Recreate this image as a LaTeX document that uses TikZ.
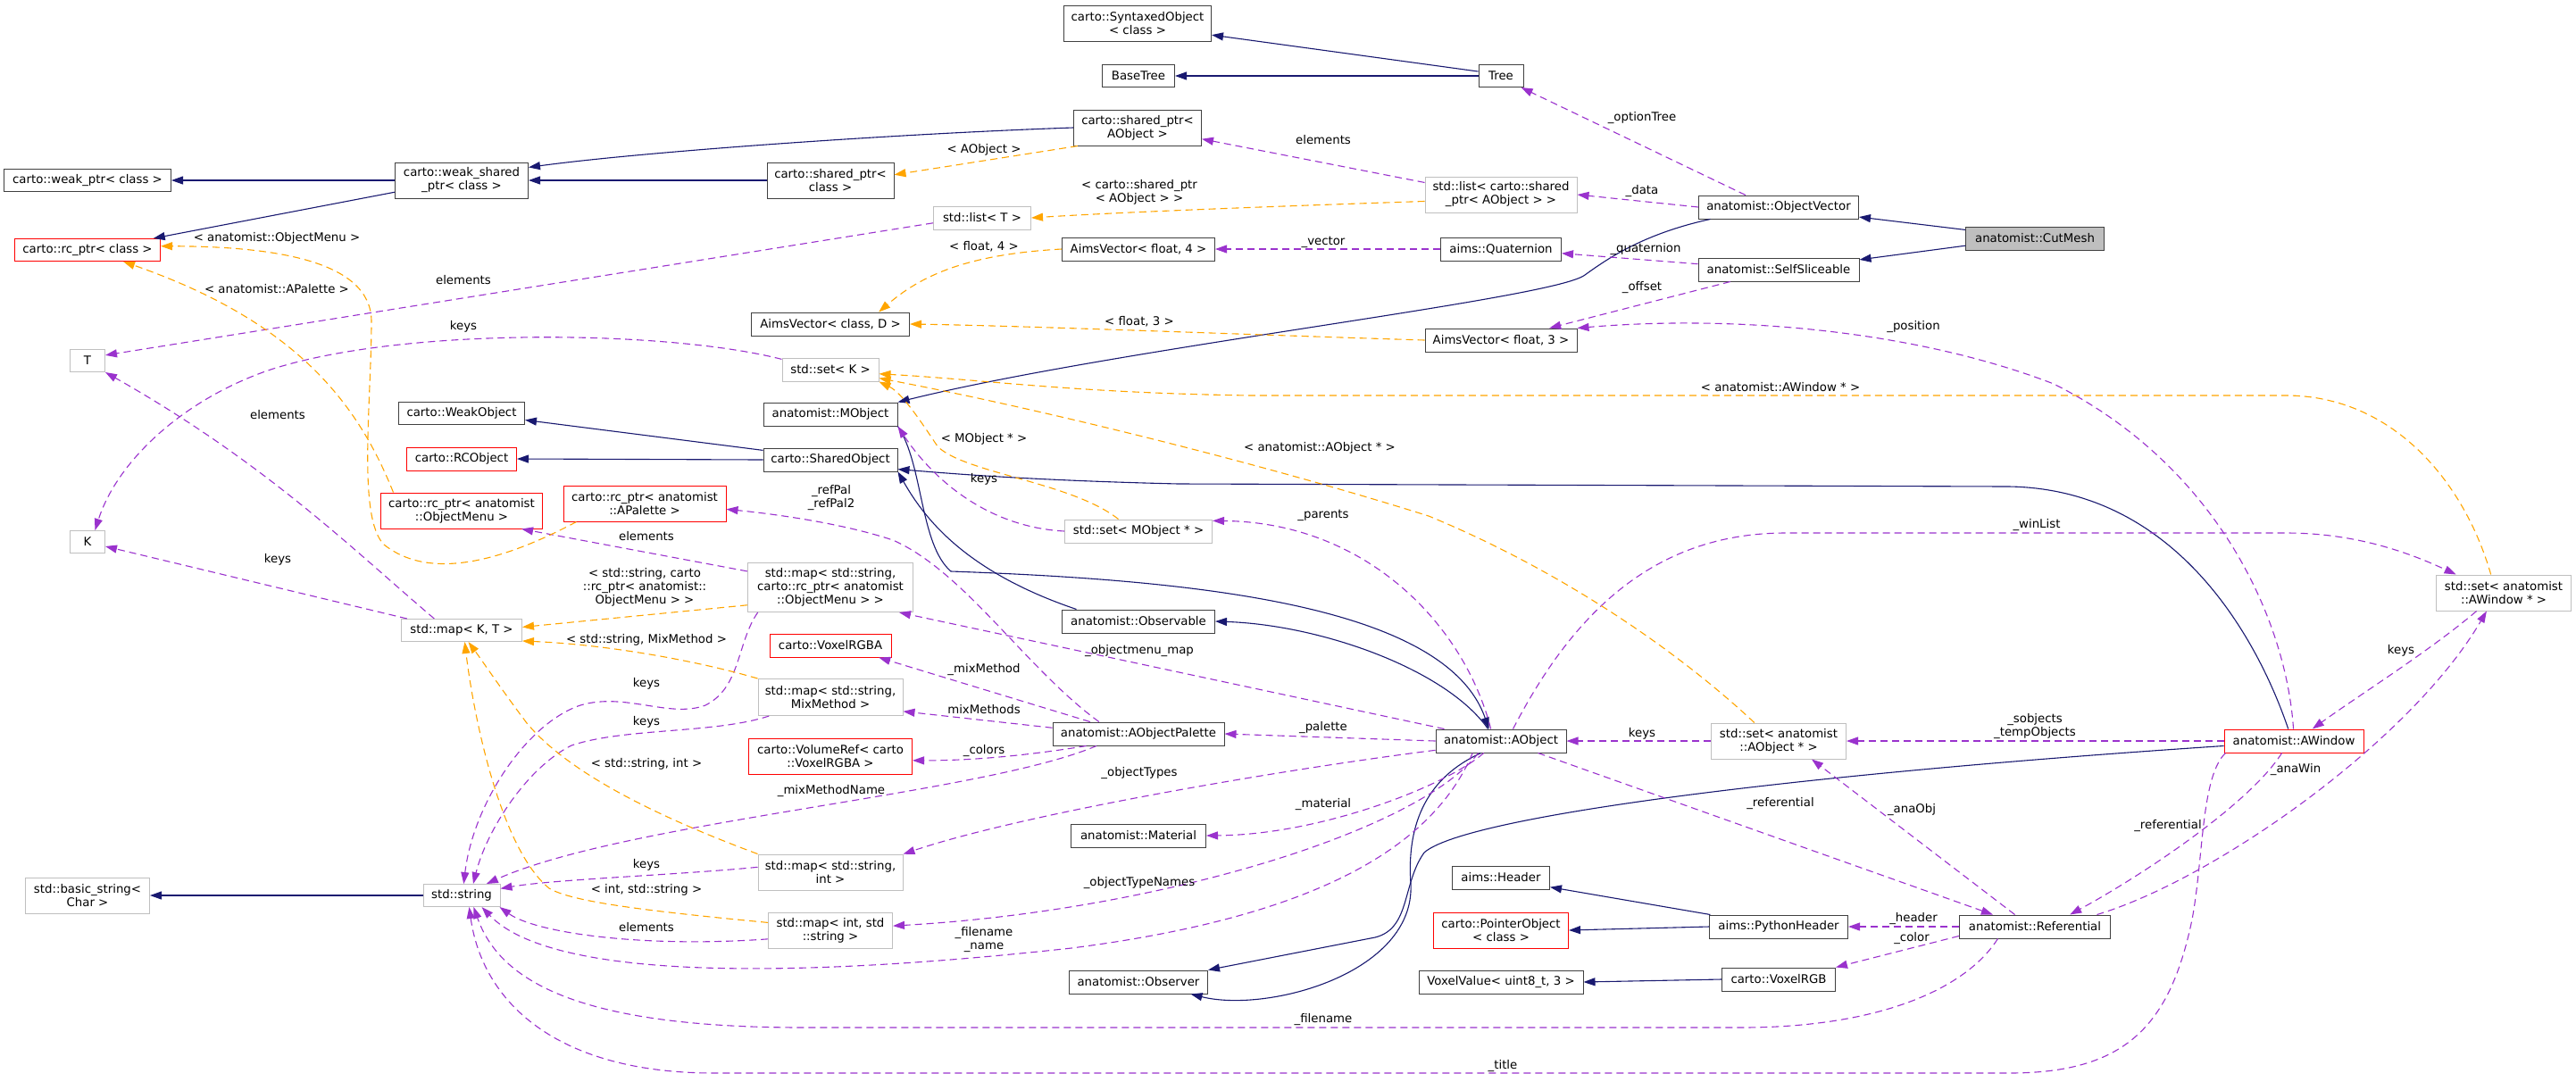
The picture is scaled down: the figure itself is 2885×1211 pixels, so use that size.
\documentclass[tikz,border=0pt]{standalone}
\usepackage{fontspec}
\setmainfont{DejaVu Sans}
\usetikzlibrary{arrows.meta}
\definecolor{inhcol}{HTML}{191970}
\definecolor{memcol}{HTML}{9A32CD}
\definecolor{tplcol}{HTML}{FFA500}
\definecolor{docbd}{HTML}{404040}
\definecolor{extbd}{HTML}{BFBFBF}
\definecolor{focfill}{HTML}{BFBFBF}
\newcommand{\lbl}{\fontsize{13.3}{15}\selectfont}

\begin{document}
\begin{tikzpicture}[x=1pt,y=-1pt,
  cls/.style={draw=docbd, line width=1pt, inner sep=0pt, align=center, font=\lbl},
  ext/.style={cls, draw=extbd},
  undoc/.style={cls, draw=red},
  focus/.style={cls, fill=focfill},
  sz/.style 2 args={minimum width=#1, minimum height=#2},
  lab/.style={inner sep=0pt, align=center, font=\lbl},
  inh/.style={draw=inhcol, line width=1.1pt, -{Triangle[length=13pt,width=9pt]}},
  mem/.style={draw=memcol, line width=1.1pt, dash pattern=on 8pt off 5pt, -{Triangle[length=13pt,width=9pt]}},
  tpl/.style={draw=tplcol, line width=1.1pt, dash pattern=on 8pt off 5pt, -{Triangle[length=13pt,width=9pt]}}]
  \useasboundingbox (0,0) rectangle (2885,1211);

  \node[cls,sz={165}{40}] (syntaxed) at (1274,26) {carto::SyntaxedObject\\< class >};
  \node[cls,sz={81}{25}] (baseTree) at (1275,85) {BaseTree};
  \node[cls,sz={50}{25}] (tree) at (1681,85) {Tree};
  \node[cls,sz={143}{40}] (sharedAObj) at (1274,143) {carto::shared\_ptr<\\AObject >};
  \node[cls,sz={142}{40}] (sharedCls) at (930,202) {carto::shared\_ptr<\\class >};
  \node[cls,sz={149}{40}] (weakShared) at (517,202) {carto::weak\_shared\\\_ptr< class >};
  \node[cls,sz={187}{25}] (weakPtr) at (98,202) {carto::weak\_ptr< class >};
  \node[undoc,sz={163}{25}] (rcPtr) at (98,280) {carto::rc\_ptr< class >};
  \node[ext,sz={39}{25}] (tpT) at (98,404) {T};
  \node[ext,sz={39}{25}] (tpK) at (98,607) {K};
  \node[ext,sz={109}{26}] (listT) at (1100,244) {std::list< T >};
  \node[cls,sz={171}{26}] (vec4) at (1275,279) {AimsVector< float, 4 >};
  \node[cls,sz={177}{26}] (vecCD) at (930,363) {AimsVector< class, D >};
  \node[ext,sz={108}{26}] (setK) at (930,414) {std::set< K >};
  \node[cls,sz={150}{26}] (mobj) at (930,464) {anatomist::MObject};
  \node[cls,sz={150}{26}] (sharedObj) at (930,515) {carto::SharedObject};
  \node[cls,sz={141}{25}] (weakObj) at (517,463) {carto::WeakObject};
  \node[undoc,sz={123}{26}] (rcObj) at (517,514) {carto::RCObject};
  \node[undoc,sz={181}{40}] (rcMenu) at (517,572) {carto::rc\_ptr< anatomist\\::ObjectMenu >};
  \node[undoc,sz={182}{40}] (rcPal) at (722,564) {carto::rc\_ptr< anatomist\\::APalette >};
  \node[ext,sz={165}{26}] (setMObj) at (1275,595) {std::set< MObject * >};
  \node[ext,sz={135}{25}] (mapKT) at (517,706) {std::map< K, T >};
  \node[ext,sz={139}{40}] (basicStr) at (98,1003) {std::basic\_string<\\Char >};
  \node[ext,sz={86}{25}] (stdStr) at (517,1003) {std::string};
  \node[ext,sz={185}{55}] (mapMenu) at (930,658) {std::map< std::string,\\carto::rc\_ptr< anatomist\\::ObjectMenu > >};
  \node[undoc,sz={136}{26}] (voxRGBA) at (930,723) {carto::VoxelRGBA};
  \node[ext,sz={162}{41}] (mapMix) at (930,781) {std::map< std::string,\\MixMethod >};
  \node[undoc,sz={183}{40}] (volRef) at (930,847) {carto::VolumeRef< carto\\::VoxelRGBA >};
  \node[ext,sz={162}{40}] (mapStrInt) at (930,977) {std::map< std::string,\\int >};
  \node[ext,sz={139}{40}] (mapIntStr) at (930,1042) {std::map< int, std\\::string >};
  \node[cls,sz={171}{26}] (observable) at (1275,696) {anatomist::Observable};
  \node[cls,sz={192}{26}] (aopal) at (1275,822) {anatomist::AObjectPalette};
  \node[cls,sz={151}{26}] (material) at (1275,936) {anatomist::Material};
  \node[cls,sz={155}{26}] (observer) at (1275,1100) {anatomist::Observer};
  \node[ext,sz={170}{40}] (listSP) at (1681,218) {std::list< carto::shared\\\_ptr< AObject > >};
  \node[cls,sz={135}{26}] (quat) at (1681,279) {aims::Quaternion};
  \node[cls,sz={170}{26}] (vec3) at (1681,381) {AimsVector< float, 3 >};
  \node[cls,sz={179}{26}] (objVec) at (1992,232) {anatomist::ObjectVector};
  \node[cls,sz={180}{26}] (selfSl) at (1992,302) {anatomist::SelfSliceable};
  \node[focus,sz={155}{26}] (cutMesh) at (2279,267) {anatomist::CutMesh};
  \node[cls,sz={146}{26}] (aobj) at (1681,830) {anatomist::AObject};
  \node[ext,sz={151}{40}] (setAObj) at (1992,830) {std::set< anatomist\\::AObject * >};
  \node[cls,sz={109}{26}] (aimsHdr) at (1681,983) {aims::Header};
  \node[undoc,sz={151}{40}] (ptrObj) at (1681,1042) {carto::PointerObject\\< class >};
  \node[cls,sz={184}{26}] (voxVal) at (1681,1100) {VoxelValue< uint8\_t, 3 >};
  \node[cls,sz={155}{26}] (pyHdr) at (1992,1038) {aims::PythonHeader};
  \node[cls,sz={127}{26}] (voxRGB) at (1992,1097) {carto::VoxelRGB};
  \node[cls,sz={169}{26}] (refl) at (2279,1038) {anatomist::Referential};
  \node[undoc,sz={156}{26}] (awin) at (2569,830) {anatomist::AWindow};
  \node[ext,sz={151}{40}] (setAWin) at (2804,664) {std::set< anatomist\\::AWindow * >};

  \draw[inh] (tree.169) -- (syntaxed.-9);
  \draw[inh] (tree.west) -- (baseTree.east);
  \draw[inh] (sharedAObj.west) .. controls (1000,150) and (720,170) .. (weakShared.11);
  \draw[inh] (sharedCls.west) -- (weakShared.east);
  \draw[inh] (weakShared.west) -- (weakPtr.east);
  \draw[inh] (weakShared.190) -- (rcPtr.10);
  \draw[inh] (objVec.190) .. controls (1840,262) and (1800,290) .. (1775,308) .. controls (1740,335) and (1250,390) .. (mobj.north east);
  \draw[inh] (cutMesh.173) -- (objVec.-7);
  \draw[inh] (cutMesh.186) -- (selfSl.7);
  \draw[inh] (sharedObj.172) -- (weakObj.-6);
  \draw[inh] (sharedObj.west) -- (rcObj.east);
  \draw[inh] (observable.169) .. controls (1080,640) and (1035,580) .. (sharedObj.-10);
  \draw[inh] (mobj.south east) .. controls (1034,520) and (1030,610) .. (1065,640) .. controls (1350,650) and (1620,680) .. (aobj.135);
  \draw[inh] (aobj.137) .. controls (1620,750) and (1480,700) .. (observable.east);
  \draw[inh] (aobj.211) .. controls (1600,870) and (1575,920) .. (1580,990) .. controls (1585,1090) and (1420,1135) .. (observer.-13);
  \draw[inh] (awin.184) .. controls (2000,868) and (1640,915) .. (1595,955) .. controls (1570,990) and (1580,1040) .. (1540,1050) -- (observer.north east);
  \draw[inh] (awin.115) .. controls (2530,720) and (2440,548) .. (2250,545) -- (1320,542) .. controls (1150,538) and (1060,530) .. (sharedObj.-8);
  \draw[inh] (pyHdr.170) -- (aimsHdr.-11);
  \draw[inh] (pyHdr.west) -- (ptrObj.east);
  \draw[inh] (voxRGB.west) -- (voxVal.east);
  \draw[inh] (stdStr.west) -- (basicStr.east);

  \draw[mem] (objVec.160) -- (tree.-30);
  \draw[mem] (objVec.west) -- (listSP.east);
  \draw[mem] (listSP.171) -- (sharedAObj.-10);
  \draw[mem] (selfSl.176) -- (quat.-4);
  \draw[mem] (selfSl.194) -- (vec3.14);
  \draw[mem] (quat.west) -- (vec4.east);
  \draw[mem] (awin.92) .. controls (2560,690) and (2480,520) .. (2300,430) .. controls (2150,372) and (1950,352) .. (vec3.north east);
  \draw[mem] (awin.west) -- (setAObj.east);
  \draw[mem] (setAObj.west) -- (aobj.east);
  \draw[mem] (setAWin.214) .. controls (2720,730) and (2640,780) .. (awin.33);
  \draw[mem] (aobj.45) .. controls (1760,690) and (1850,597) .. (2000,597) -- (2560,597) .. controls (2640,597) and (2700,620) .. (setAWin.159);
  \draw[mem] (refl.11) .. controls (2480,985) and (2700,830) .. (setAWin.-133);
  \draw[mem] (awin.-135) .. controls (2520,900) and (2400,980) .. (refl.19);
  \draw[mem] (refl.149) -- (setAObj.-29);
  \draw[mem] (aobj.-18) -- (refl.164);
  \draw[mem] (refl.west) -- (pyHdr.east);
  \draw[mem] (refl.187) -- (voxRGB.north east);
  \draw[mem] (refl.198) .. controls (2200,1110) and (2100,1151) .. (1950,1151) -- (900,1151) .. controls (650,1151) and (560,1100) .. (stdStr.-44);
  \draw[mem] (awin.190) .. controls (2465,870) and (2468,960) .. (2455,1030) .. controls (2430,1150) and (2380,1202) .. (2250,1202) -- (800,1202) .. controls (620,1202) and (540,1120) .. (stdStr.-57);
  \draw[mem] (aobj.203) .. controls (1600,960) and (1450,1030) .. (1200,1062) .. controls (900,1095) and (620,1100) .. (stdStr.-30);
  \draw[mem] (aobj.208) .. controls (1590,930) and (1300,1020) .. (mapIntStr.4);
  \draw[mem] (aobj.215) .. controls (1620,880) and (1480,935) .. (material.east);
  \draw[mem] (aobj.188) .. controls (1450,860) and (1150,910) .. (mapStrInt.14);
  \draw[mem] (aobj.west) -- (aopal.east);
  \draw[mem] (aobj.168) -- (mapMenu.-20);
  \draw[mem] (setMObj.west) .. controls (1100,590) and (1040,530) .. (mobj.south east);
  \draw[mem] (aobj.130) .. controls (1640,700) and (1530,585) .. (setMObj.8);
  \draw[mem] (aopal.166) -- (voxRGBA.-14);
  \draw[mem] (aopal.176) -- (mapMix.-11);
  \draw[mem] (aopal.193) .. controls (1140,848) and (1080,852) .. (volRef.-3);
  \draw[mem] (aopal.196) .. controls (1100,890) and (700,920) .. (stdStr.25);
  \draw[mem] (aopal.163) .. controls (1150,750) and (1080,640) .. (1000,605) .. controls (940,585) and (860,575) .. (rcPal.-4);
  \draw[mem] (mapMenu.169) -- (rcMenu.-17);
  \draw[mem] (mapMenu.199) .. controls (825,720) and (830,770) .. (790,790) .. controls (750,805) and (700,775) .. (650,790) .. controls (590,810) and (530,900) .. (stdStr.80);
  \draw[mem] (mapMix.197) .. controls (800,822) and (700,815) .. (640,835) .. controls (590,860) and (545,930) .. (stdStr.45);
  \draw[mem] (mapStrInt.176) .. controls (760,980) and (620,985) .. (stdStr.10);
  \draw[mem] (mapIntStr.188) .. controls (720,1062) and (600,1045) .. (stdStr.-17);
  \draw[mem] (listT.186) -- (tpT.17);
  \draw[mem] (setK.168) .. controls (750,370) and (450,365) .. (300,415) .. controls (200,450) and (130,520) .. (tpK.57);
  \draw[mem] (mapKT.157) .. controls (400,620) and (300,520) .. (tpT.south east);
  \draw[mem] (mapKT.168) -- (tpK.-14);

  \draw[tpl] (sharedAObj.197) -- (sharedCls.5);
  \draw[tpl] (listSP.185) .. controls (1400,232) and (1250,238) .. (listT.east);
  \draw[tpl] (vec4.west) .. controls (1080,285) and (1030,310) .. (vecCD.14);
  \draw[tpl] (vec3.west) .. controls (1400,375) and (1150,365) .. (vecCD.east);
  \draw[tpl] (setMObj.149) .. controls (1200,540) and (1080,530) .. (1050,500) .. controls (1030,470) and (1010,440) .. (setK.south east);
  \draw[tpl] (setAObj.143) .. controls (1880,730) and (1750,640) .. (1600,578) .. controls (1400,515) and (1150,455) .. (setK.-10);
  \draw[tpl] (setAWin.125) .. controls (2760,540) and (2680,443) .. (2560,443) -- (1400,443) .. controls (1200,440) and (1100,425) .. (setK.-5);
  \draw[tpl] (mapMenu.192) -- (mapKT.3);
  \draw[tpl] (mapMix.north west) .. controls (780,740) and (680,722) .. (mapKT.-10);
  \draw[tpl] (mapStrInt.north west) .. controls (750,920) and (640,870) .. (590,810) .. controls (560,770) and (540,740) .. (mapKT.-60);
  \draw[tpl] (mapIntStr.173) .. controls (720,1020) and (640,1010) .. (615,995) .. controls (560,950) and (530,800) .. (mapKT.-75);
  \draw[tpl] (rcMenu.165) .. controls (400,450) and (330,360) .. (rcPtr.-18);
  \draw[tpl] (rcPal.195) .. controls (560,630) and (480,650) .. (430,610) .. controls (400,580) and (416,450) .. (416,360) .. controls (416,290) and (300,276) .. (rcPtr.3);

  \node[lab] (lOptTree) at (1839,132) {\_optionTree};
  \node[lab] (lElemSP) at (1482,157) {elements};
  \node[lab] (lAObj) at (1102,168) {< AObject >};
  \node[lab] (lListSP) at (1276,215) {< carto::shared\_ptr\\< AObject > >};
  \node[lab] (lData) at (1839,214) {\_data};
  \node[lab] (lF4) at (1102,276) {< float, 4 >};
  \node[lab] (lVector) at (1482,271) {\_vector};
  \node[lab] (lQuat) at (1843,279) {\_quaternion};
  \node[lab] (lOffset) at (1839,322) {\_offset};
  \node[lab] (lF3) at (1276,360) {< float, 3 >};
  \node[lab] (lPos) at (2143,366) {\_position};
  \node[lab] (lAWinT) at (1994,434) {< anatomist::AWindow * >};
  \node[lab] (lMObjT) at (1102,492) {< MObject * >};
  \node[lab] (lAObjT) at (1478,502) {< anatomist::AObject * >};
  \node[lab] (lKeysM) at (1102,537) {keys};
  \node[lab] (lRefPal) at (931,558) {\_refPal\\\_refPal2};
  \node[lab] (lParents) at (1482,577) {\_parents};
  \node[lab] (lWinList) at (2281,588) {\_winList};
  \node[lab] (lElemMenu) at (724,601) {elements};
  \node[lab] (lMenuT) at (722,658) {< std::string, carto\\::rc\_ptr< anatomist::\\ObjectMenu > >};
  \node[lab] (lMixT) at (724,717) {< std::string, MixMethod >};
  \node[lab] (lMenuMap) at (1276,729) {\_objectmenu\_map};
  \node[lab] (lKeysW) at (2689,729) {keys};
  \node[lab] (lMixMeth) at (1102,750) {\_mixMethod};
  \node[lab] (lKeysMenu) at (724,766) {keys};
  \node[lab] (lMixMeths) at (1102,795) {mixMethods};
  \node[lab] (lSobj) at (2279,814) {\_sobjects\\\_tempObjects};
  \node[lab] (lKeysMix) at (724,809) {keys};
  \node[lab] (lPalette) at (1482,815) {\_palette};
  \node[lab] (lKeysA) at (1839,822) {keys};
  \node[lab] (lColors) at (1102,841) {\_colors};
  \node[lab] (lIntT) at (724,856) {< std::string, int >};
  \node[lab] (lAnaWin) at (2571,862) {\_anaWin};
  \node[lab] (lObjTypes) at (1276,866) {\_objectTypes};
  \node[lab] (lMixName) at (931,886) {\_mixMethodName};
  \node[lab] (lRefA) at (1994,900) {\_referential};
  \node[lab] (lMaterial) at (1482,901) {\_material};
  \node[lab] (lAnaObj) at (2141,907) {\_anaObj};
  \node[lab] (lRefW) at (2428,925) {\_referential};
  \node[lab] (lKeysInt) at (724,969) {keys};
  \node[lab] (lTypeNames) at (1276,989) {\_objectTypeNames};
  \node[lab] (lIntStrT) at (724,997) {< int, std::string >};
  \node[lab] (lHeader) at (2143,1029) {\_header};
  \node[lab] (lElemInt) at (724,1039) {elements};
  \node[lab] (lFileName) at (1102,1052) {\_filename\\\_name};
  \node[lab] (lColor) at (2141,1051) {\_color};
  \node[lab] (lFileRef) at (1482,1142) {\_filename};
  \node[lab] (lTitle) at (1683,1194) {\_title};
  \node[lab] (lMenuRc) at (310,267) {< anatomist::ObjectMenu >};
  \node[lab] (lElemT) at (519,314) {elements};
  \node[lab] (lPalRc) at (310,324) {< anatomist::APalette >};
  \node[lab] (lKeysK) at (519,366) {keys};
  \node[lab] (lElemKT) at (311,465) {elements};
  \node[lab] (lKeysKT) at (311,627) {keys};
\end{tikzpicture}
\end{document}
